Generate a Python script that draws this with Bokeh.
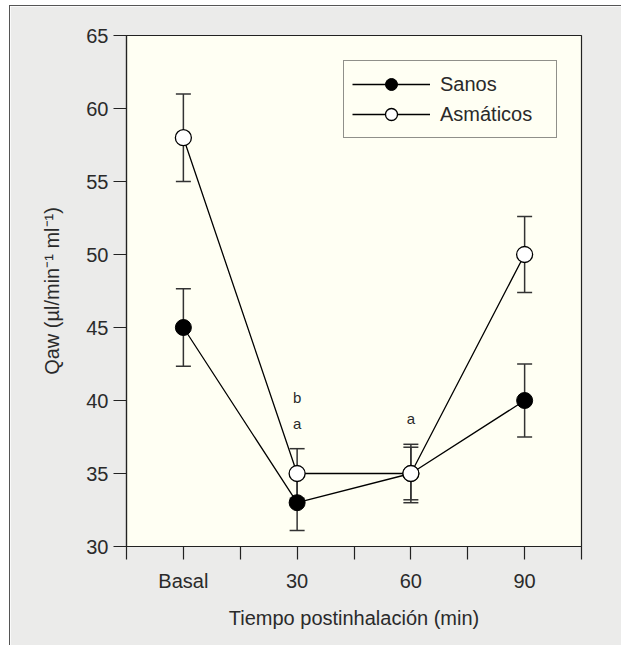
from bokeh.plotting import figure
from bokeh.models import (Range1d, FixedTicker, ColumnDataSource, Whisker, TeeHead,
                          Legend, LegendItem)
from bokeh.core.properties import value
from bokeh.embed import file_html
from bokeh.resources import INLINE

# ---- data ----
categories = ["Basal", "30", "60", "90"]
sanos = [45.0, 33.0, 35.0, 40.0]
sanos_err = [2.65, 1.9, 2.0, 2.5]
asmaticos = [58.0, 35.0, 35.0, 50.0]
asmaticos_err = [3.0, 1.7, 1.8, 2.6]
y_ticks = [30, 35, 40, 45, 50, 55, 60, 65]
# significance letters: (category index, letters stacked bottom->top)
sig_cat = [1, 1, 2]
sig_txt = ["a", "b", "a"]
sig_level = [0, 1, 0]

FONT = "Liberation Sans"
TXT = "#2a2a2a"
BG = "#ebebea"
PLOT_BG = "#fffff3"

xpos = [2 * i + 1 for i in range(len(categories))]

p = figure(width=611, height=639, output_backend="svg", toolbar_location=None,
           x_range=Range1d(0, 2 * len(categories)), y_range=Range1d(30, 65),
           min_border_left=116, min_border_right=40, min_border_top=29,
           min_border_bottom=99, frame_width=455, frame_height=511)
p.background_fill_color = PLOT_BG
p.border_fill_color = BG
p.outline_line_color = "#222222"
p.outline_line_width = 1.2
p.grid.visible = False
p.styles = {"margin-left": "9px", "margin-top": "5px",
            "border-top": "1px solid #555555", "border-left": "1px solid #555555"}

# axes
p.yaxis.ticker = FixedTicker(ticks=y_ticks)
p.xaxis.ticker = FixedTicker(ticks=list(range(0, 2 * len(categories) + 1)))
overrides = {i: "" for i in range(0, 2 * len(categories) + 1)}
for xi, c in zip(xpos, categories):
    overrides[xi] = c
p.xaxis.major_label_overrides = overrides
for ax in (p.xaxis, p.yaxis):
    ax.major_tick_in = 0
    ax.major_tick_out = 13
    ax.minor_tick_out = 0
    ax.minor_tick_in = 0
    ax.axis_line_color = "#222222"
    ax.axis_line_width = 1.2
    ax.major_tick_line_color = "#222222"
    ax.major_tick_line_width = 1.2
    ax.major_label_text_font = FONT
    ax.major_label_text_font_size = "20px"
    ax.major_label_text_color = TXT
    ax.axis_label_text_font = FONT
    ax.axis_label_text_font_size = "20px"
    ax.axis_label_text_font_style = "normal"
    ax.axis_label_text_color = TXT
p.xaxis.major_label_standoff = 10
p.yaxis.major_label_standoff = 5
p.xaxis.axis_label = "Tiempo postinhalación (min)"
p.yaxis.axis_label = "Qaw (µl/min⁻¹ ml⁻¹)"
p.xaxis.axis_label_standoff = 12
p.yaxis.axis_label_standoff = 20

src_s = ColumnDataSource(dict(x=xpos, y=sanos,
                              lo=[v - e for v, e in zip(sanos, sanos_err)],
                              hi=[v + e for v, e in zip(sanos, sanos_err)]))
src_a = ColumnDataSource(dict(x=xpos, y=asmaticos,
                              lo=[v - e for v, e in zip(asmaticos, asmaticos_err)],
                              hi=[v + e for v, e in zip(asmaticos, asmaticos_err)]))

for src in (src_s, src_a):
    w = Whisker(source=src, base="x", upper="hi", lower="lo", dimension="height",
                line_color="#333333", line_width=1.5,
                upper_head=TeeHead(size=15, line_color="#333333", line_width=1.5),
                lower_head=TeeHead(size=15, line_color="#333333", line_width=1.5))
    p.add_layout(w)

l_s = p.line("x", "y", source=src_s, line_color="black", line_width=1.3)
m_s = p.scatter("x", "y", source=src_s, size=16, fill_color="black", line_color="black")
l_a = p.line("x", "y", source=src_a, line_color="black", line_width=1.3)
m_a = p.scatter("x", "y", source=src_a, size=16, fill_color="white", line_color="black",
                line_width=1.3)

# significance letters above the highest error bar
top = [max(a, b) for a, b in zip(src_s.data["hi"], src_a.data["hi"])]
sig_src = ColumnDataSource(dict(x=[xpos[i] for i in sig_cat], y=[top[i] for i in sig_cat],
                                t=sig_txt, off=[-25.5 - 26 * lv for lv in sig_level]))
p.text("x", "y", text="t", y_offset="off", source=sig_src, text_align="center",
       text_baseline="middle", text_font=value(FONT), text_font_size="15px",
       text_color=TXT)

legend = Legend(items=[LegendItem(label="Sanos", renderers=[l_s, m_s]),
                       LegendItem(label="Asmáticos", renderers=[l_a, m_a])],
                location=(217, 408), orientation="vertical")
legend.glyph_width = 78
legend.glyph_height = 30
legend.spacing = 0
legend.padding = 8
legend.margin = 0
legend.label_standoff = 10
legend.label_width = 108
legend.label_height = 20
legend.label_text_font = FONT
legend.label_text_font_size = "20px"
legend.label_text_color = TXT
legend.border_line_color = "#222222"
legend.border_line_width = 1.5
legend.background_fill_color = PLOT_BG
legend.background_fill_alpha = 1.0
p.add_layout(legend)

open("out.html", "w").write(file_html(p, INLINE))
